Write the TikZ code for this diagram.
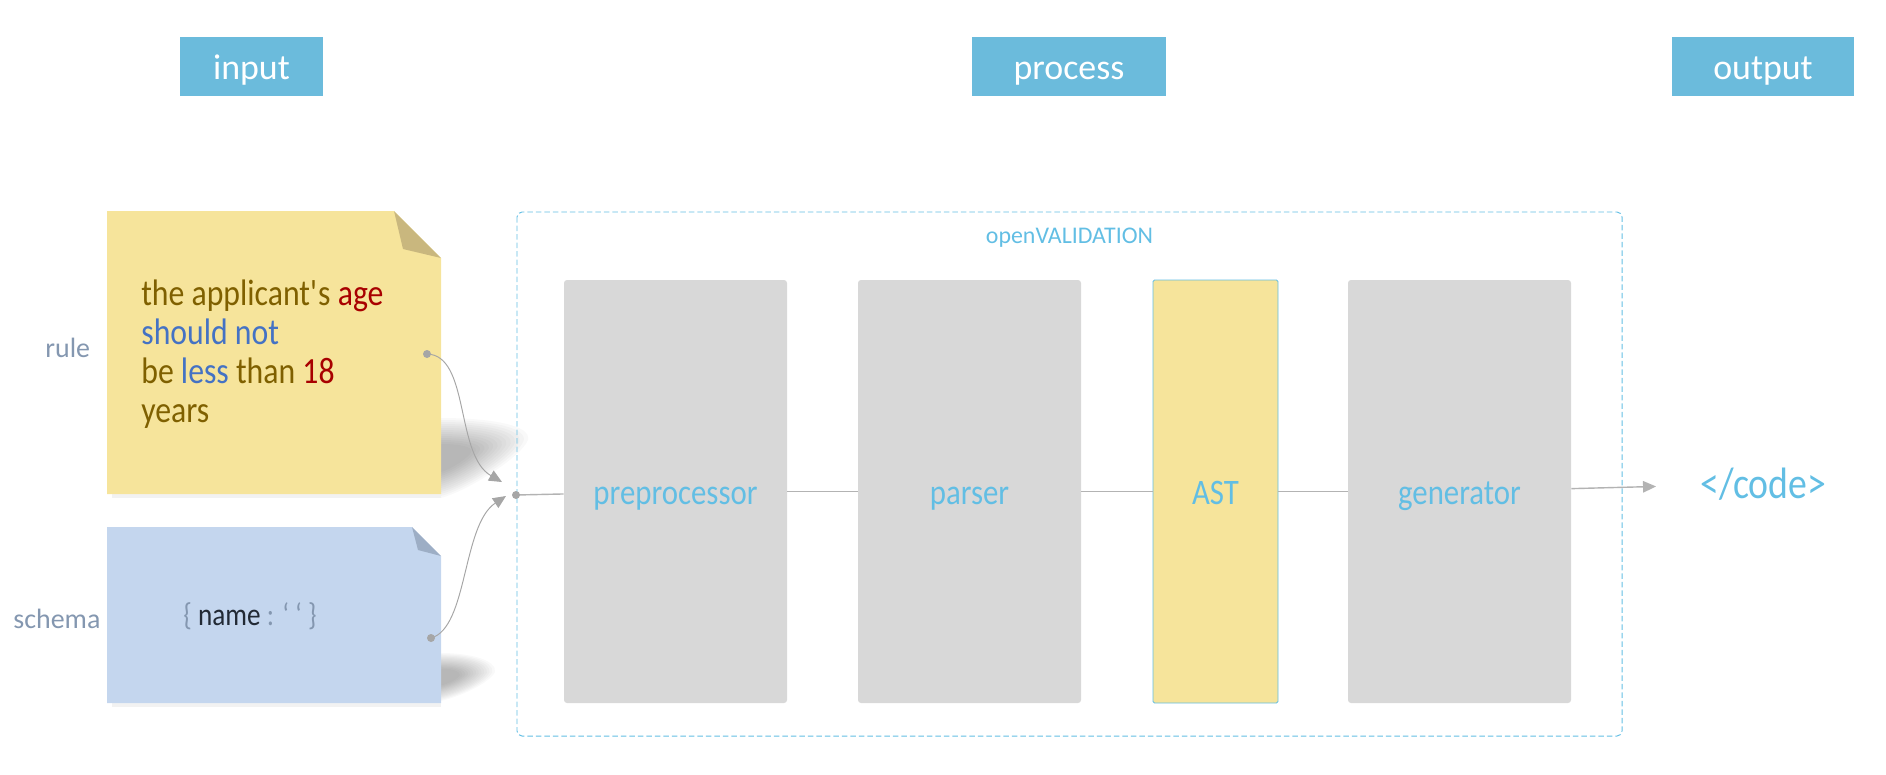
\documentclass[tikz,border=0pt]{standalone}
\usepackage{fontspec}
\setmainfont{Carlito}
\newfontfamily\narrowfont[FakeStretch=0.86]{Carlito}
\usetikzlibrary{arrows.meta}

\definecolor{headblue}{HTML}{6BBBDC}
\definecolor{ovblue}{HTML}{62BEE4}
\definecolor{boxgray}{HTML}{D8D8D8}
\definecolor{noteyellow}{HTML}{F6E49B}
\definecolor{foldyellow}{HTML}{C9B77E}
\definecolor{noteblue}{HTML}{C4D6EE}
\definecolor{foldblue}{HTML}{9DAEC5}
\definecolor{textolive}{HTML}{7F6000}
\definecolor{textred}{HTML}{A80000}
\definecolor{textblue}{HTML}{4472C4}
\definecolor{labelgray}{HTML}{8497B0}
\definecolor{codedark}{HTML}{222A35}
\definecolor{linkgray}{HTML}{A6A6A6}

\tikzset{
  headbox/.style={fill=headblue, text=white, minimum height=11.8mm, inner sep=0pt,
    text height=18.5pt, text depth=3.7pt, font=\fontsize{20.4}{24}\selectfont},
  stagebox/.style={fill=boxgray, rounded corners=0.6mm, minimum width=44.6mm, minimum height=84.6mm,
    inner sep=0pt, text=ovblue, text height=17.5pt, text depth=3.1pt,
    font=\narrowfont\fontsize{20.4}{24}\selectfont},
  notetext/.style={anchor=base west, align=left, inner sep=0pt,
    font=\narrowfont\fontsize{21}{22.1}\selectfont},
  sidelabel/.style={anchor=base west, inner sep=0pt, text=labelgray,
    font=\fontsize{15.9}{19}\selectfont},
  ovborder/.style={draw=ovblue, line width=0.55pt, dash pattern=on 1.1mm off 0.6mm, rounded corners=1mm},
  link/.style={draw=linkgray, line width=0.55pt},
  flow/.style={draw=linkgray!85, line width=0.8pt},
  linkarrow/.style={-{Triangle[length=2.6mm, width=2.3mm]}},
}

\begin{document}
\begin{tikzpicture}[x=0.2mm, y=-0.2mm]
    \useasboundingbox (0,0) rectangle (1886,774);

    % ==================== HEADER ROW ====================
    \node[headbox, minimum width=28.6mm] (input) at (251.5,66.5) {input};
    \node[headbox, minimum width=38.8mm] (process) at (1069,66.5) {process};
    \node[headbox, minimum width=36.4mm] (output) at (1763,66.5) {output};

    % ==================== INPUT NOTES ====================
    % 1. Soft shadows behind the notes
    \foreach \s in {1,0.95,...,0.3} {
        \fill[black, opacity=0.025, scale around={\s:(441,458)}]
            (441,418) .. controls (490,418) and (532,425) .. (528,440)
            .. controls (522,456) and (470,490) .. (441,498) -- cycle;
        \fill[black, opacity=0.025, scale around={\s:(441,677)}]
            (441,653) .. controls (470,653) and (497,660) .. (495,672)
            .. controls (490,682) and (465,695) .. (441,701) -- cycle;
    }
    \fill[black, opacity=0.05] (112,494) rectangle (441,498);
    \fill[black, opacity=0.05] (112,703) rectangle (441,707);

    % 2. Rule note (yellow) with folded corner
    \fill[noteyellow] (107,211) -- (394,211) -- (441,258) -- (441,494) -- (107,494) -- cycle;
    \fill[foldyellow] (394,211) -- (403,249) -- (441,258) -- cycle;
    \node[notetext] (ruletext) at (141,422)
        {\textcolor{textolive}{the applicant\textquotesingle s} \textcolor{textred}{age}\\
         \textcolor{textblue}{should not}\\
         \textcolor{textolive}{be} \textcolor{textblue}{less} \textcolor{textolive}{than} \textcolor{textred}{18}\\
         \textcolor{textolive}{years}};

    % 3. Schema note (blue) with folded corner
    \fill[noteblue] (107,527) -- (412,527) -- (441,556) -- (441,703) -- (107,703) -- cycle;
    \fill[foldblue] (412,527) -- (418,550) -- (441,556) -- cycle;
    \node[notetext, font=\narrowfont\fontsize{18}{21}\selectfont] (schematext) at (183,625)
        {\textcolor{labelgray}{\{} \textcolor{codedark}{name} \textcolor{labelgray}{: ‘ ‘ \}}};

    % 4. Side labels
    \node[sidelabel] (rulelabel) at (45,357) {rule};
    \node[sidelabel] (schemalabel) at (13,628) {schema};

    % ==================== openVALIDATION ====================
    \draw[ovborder] (517,212) rectangle (1622,736);
    \node[anchor=base, inner sep=0pt, text=ovblue, font=\fontsize{13.6}{16}\selectfont] (ovtitle)
        at (1069.5,243) {openVALIDATION};

    \node[stagebox] (pre) at (675.5,491.5) {preprocessor};
    \node[stagebox] (parser) at (969.5,491.5) {parser};
    \node[stagebox, fill=noteyellow, draw=ovblue, line width=0.5pt, rounded corners=0.3mm,
        minimum width=25mm] (ast) at (1215.5,491.5) {AST};
    \node[stagebox] (gen) at (1459.5,491.5) {generator};

    % ==================== OUTPUT ====================
    \node[anchor=base west, inner sep=0pt, text=ovblue, font=\narrowfont\fontsize{25}{30}\selectfont] (code)
        at (1700,498) {</code>};

    % ==================== CONNECTORS ====================
    \coordinate (ruledot) at (427,354);
    \coordinate (schemadot) at (431,638);
    \coordinate (ruletip) at (502,482);
    \coordinate (schematip) at (506,496);
    \coordinate (entry) at (516,495);

    \draw[flow] (entry) -- (pre);
    \draw[flow] (pre) -- (parser);
    \draw[flow] (parser) -- (ast);
    \draw[flow] (ast) -- (gen);
    \draw[flow, linkarrow, shorten >=8.8mm] (gen) -- (code);

    \draw[link, linkarrow] (ruledot) .. controls (470,355) and (455,455) .. (ruletip);
    \draw[link, linkarrow] (schemadot) .. controls (468,628) and (462,525) .. (schematip);

    \fill[linkgray] (ruledot) circle (0.8mm);
    \fill[linkgray] (schemadot) circle (0.8mm);
    \fill[linkgray] (entry) circle (0.8mm);

\end{tikzpicture}
\end{document}
